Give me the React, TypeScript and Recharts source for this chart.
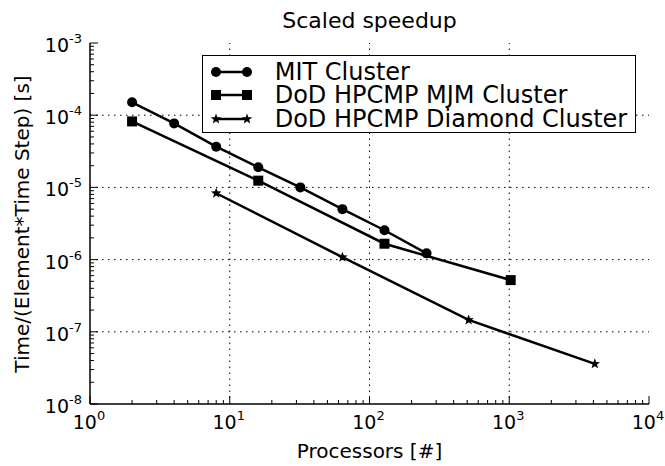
import React from 'react';
import { LineChart, Line, XAxis, YAxis, ReferenceLine, Legend } from 'recharts';

// values (log-log)
const mitProcs = [2, 4, 8, 16, 32, 64, 128, 256];
const mitTime = [1.51e-4, 7.7e-5, 3.66e-5, 1.9e-5, 1.0e-5, 5.0e-6, 2.55e-6, 1.22e-6];
const mjmProcs = [2, 16, 128, 1024];
const mjmTime = [8.2e-5, 1.24e-5, 1.66e-6, 5.2e-7];
const diamondProcs = [8, 64, 512, 4096];
const diamondTime = [8.3e-6, 1.08e-6, 1.46e-7, 3.6e-8];

const xMajor = [1, 10, 100, 1000, 10000];
const yMajor = [1e-8, 1e-7, 1e-6, 1e-5, 1e-4, 1e-3];
const minorSteps = [2, 3, 4, 5, 6, 7, 8, 9];

const minorOf = (majors: number[]) => majors.slice(0, -1).flatMap((m) => minorSteps.map((k) => m * k));
const xTicks = [...xMajor, ...minorOf(xMajor)];
const yTicks = [...yMajor, ...minorOf(yMajor)];

const toPoints = (xs: number[], ys: number[]) => xs.map((x, i) => ({ x, y: ys[i] }));

const series = [
  { name: 'MIT Cluster', data: toPoints(mitProcs, mitTime), shape: 'circle' },
  { name: 'DoD HPCMP MJM Cluster', data: toPoints(mjmProcs, mjmTime), shape: 'square' },
  { name: 'DoD HPCMP Diamond Cluster', data: toPoints(diamondProcs, diamondTime), shape: 'star' },
];

const FONT = '"DejaVu Sans", sans-serif';
const exponent = (v: number) => Math.round(Math.log10(v));
const isMajor = (v: number) => Math.abs(Math.log10(v) - exponent(v)) < 1e-6;

function starPath(cx: number, cy: number, r: number) {
  const pts: string[] = [];
  for (let i = 0; i < 10; i++) {
    const rad = i % 2 === 0 ? r : r * 0.42;
    const a = -Math.PI / 2 + (i * Math.PI) / 5;
    pts.push(`${cx + rad * Math.cos(a)},${cy + rad * Math.sin(a)}`);
  }
  return `M${pts.join('L')}Z`;
}

function Marker({ cx, cy, shape }: { cx: number; cy: number; shape: string }) {
  if (shape === 'circle') return <circle cx={cx} cy={cy} r={5} fill="#000" />;
  if (shape === 'square') return <rect x={cx - 5} y={cy - 5} width={10} height={10} fill="#000" />;
  return <path d={starPath(cx, cy, 5.5)} fill="#000" />;
}

const BottomTick = (props: any) => {
  const { x, y, payload } = props;
  const major = isMajor(payload.value);
  return (
    <g>
      <line x1={x} x2={x} y1={y} y2={y - (major ? 8 : 4)} stroke="#000" />
      {major && (
        <text x={x - 1} y={y + 25} textAnchor="middle" fontFamily={FONT} fontSize={19} fill="#000">
          <tspan>10</tspan>
          <tspan dy={-9} fontSize={13}>{exponent(payload.value)}</tspan>
        </text>
      )}
    </g>
  );
};

const TopTick = (props: any) => {
  const { x, y, payload } = props;
  const major = isMajor(payload.value);
  return <line x1={x} x2={x} y1={y} y2={y + (major ? 8 : 4)} stroke="#000" />;
};

const LeftTick = (props: any) => {
  const { x, y, payload } = props;
  const major = isMajor(payload.value);
  return (
    <g>
      <line x1={x} x2={x + (major ? 8 : 4)} y1={y} y2={y} stroke="#000" />
      {major && (
        <text x={x - 8} y={y + 9} textAnchor="end" fontFamily={FONT} fontSize={19} fill="#000">
          <tspan>10</tspan>
          <tspan dy={-9} fontSize={13}>{exponent(payload.value)}</tspan>
        </text>
      )}
    </g>
  );
};

const RightTick = (props: any) => {
  const { x, y, payload } = props;
  const major = isMajor(payload.value);
  return <line x1={x} x2={x - (major ? 8 : 4)} y1={y} y2={y} stroke="#000" />;
};

const renderLegend = () => (
  <div
    style={{
      boxSizing: 'border-box',
      width: 434,
      height: 78,
      border: '1.5px solid #000',
      background: '#fff',
      paddingTop: 4,
      fontFamily: FONT,
    }}
  >
    {series.map((s) => (
      <div key={s.name} style={{ display: 'flex', alignItems: 'center', height: 23.5 }}>
        <svg width={72} height={20} style={{ flexShrink: 0 }}>
          <line x1={13} x2={44} y1={10} y2={10} stroke="#000" strokeWidth={2.5} />
          <Marker cx={13} cy={10} shape={s.shape} />
          <Marker cx={44} cy={10} shape={s.shape} />
        </svg>
        <span style={{ fontSize: 24, lineHeight: 1, color: '#000', whiteSpace: 'nowrap' }}>{s.name}</span>
      </div>
    ))}
  </div>
);

const overlay = (left: number, top: number, size: number, rotate = false): React.CSSProperties => ({
  position: 'absolute',
  left,
  top,
  transform: `translate(-50%, -50%)${rotate ? ' rotate(-90deg)' : ''}`,
  fontFamily: FONT,
  fontSize: size,
  lineHeight: 1,
  whiteSpace: 'nowrap',
  color: '#000',
});

export default function App() {
  return (
    <div style={{ position: 'relative', width: 665, height: 466, background: '#fff', overflow: 'hidden' }}>
      <style>{'body { margin: 0; }'}</style>
      <div style={{ position: 'absolute', left: 8, top: 8, width: 657, height: 458 }}>
        <LineChart width={657} height={458} margin={{ top: 35, right: 16, bottom: 0, left: 0 }}>
          <XAxis
            xAxisId="bottom"
            dataKey="x"
            type="number"
            scale="log"
            domain={[1, 10000]}
            allowDataOverflow
            ticks={xTicks}
            interval={0}
            height={62}
            tickSize={0}
            tickMargin={0}
            tickLine={false}
            axisLine={{ stroke: '#000', strokeWidth: 1.5 }}
            tick={BottomTick}
          />
          <XAxis
            xAxisId="top"
            orientation="top"
            dataKey="x"
            type="number"
            scale="log"
            domain={[1, 10000]}
            allowDataOverflow
            ticks={xTicks}
            interval={0}
            height={0}
            tickSize={0}
            tickMargin={0}
            tickLine={false}
            axisLine={{ stroke: '#000', strokeWidth: 1.5 }}
            tick={TopTick}
          />
          <YAxis
            yAxisId="left"
            type="number"
            scale="log"
            domain={[1e-8, 1e-3]}
            allowDataOverflow
            ticks={yTicks}
            interval={0}
            width={82}
            tickSize={0}
            tickMargin={0}
            tickLine={false}
            axisLine={{ stroke: '#000', strokeWidth: 1.5 }}
            tick={LeftTick}
          />
          <YAxis
            yAxisId="right"
            orientation="right"
            type="number"
            scale="log"
            domain={[1e-8, 1e-3]}
            allowDataOverflow
            ticks={yTicks}
            interval={0}
            width={0}
            tickSize={0}
            tickMargin={0}
            tickLine={false}
            axisLine={{ stroke: '#000', strokeWidth: 1.5 }}
            tick={RightTick}
          />
          {xMajor.slice(1, -1).map((v) => (
            <ReferenceLine key={`gx${v}`} x={v} xAxisId="bottom" yAxisId="left" stroke="#000" strokeDasharray="1.5 4.5" />
          ))}
          {yMajor.slice(1, -1).map((v) => (
            <ReferenceLine key={`gy${v}`} y={v} xAxisId="bottom" yAxisId="left" stroke="#000" strokeDasharray="1.5 4.5" />
          ))}
          {series.map((s) => (
            <Line
              key={s.name}
              name={s.name}
              data={s.data}
              dataKey="y"
              xAxisId="bottom"
              yAxisId="left"
              stroke="#000"
              strokeWidth={2.5}
              isAnimationActive={false}
              dot={(p: any) => <Marker key={`${s.name}-${p.index}`} cx={p.cx} cy={p.cy} shape={s.shape} />}
            />
          ))}
          <Legend
            layout="vertical"
            align="center"
            verticalAlign="middle"
            wrapperStyle={{ left: 193.7, top: 47, width: 434, height: 78 }}
            content={renderLegend}
          />
        </LineChart>
        <div style={overlay(361.5, 13, 22)}>Scaled speedup</div>
        <div style={overlay(361.5, 443, 20)}>Processors [#]</div>
        <div style={overlay(14, 215.5, 20, true)}>Time/(Element*Time Step) [s]</div>
      </div>
    </div>
  );
}
